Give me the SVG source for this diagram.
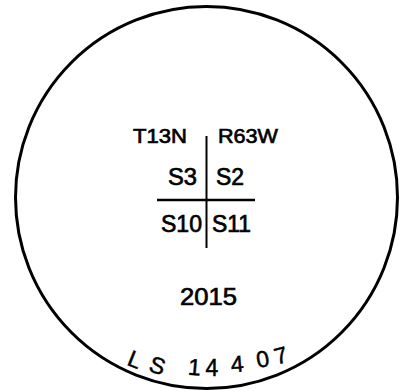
<svg xmlns="http://www.w3.org/2000/svg" width="409" height="392" viewBox="0 0 409 392">
<style>
.lbl{font-family:"Liberation Sans",Arial,sans-serif;fill:#000;stroke:#000;stroke-width:0.7}
.hw{font-family:"Liberation Sans",Arial,sans-serif;font-size:23px;fill:#000;stroke:#000;stroke-width:0.5;text-anchor:middle}
.ln{stroke:#000;fill:none}
</style>
<rect width="409" height="392" fill="#fff"/>
<g id="boundary">
<circle cx="206.5" cy="197.5" r="191" fill="none" stroke="#000" stroke-width="3"/>
</g>
<g id="connectors">
<line class="ln" x1="206.5" y1="136" x2="206.5" y2="248" stroke-width="2"/>
<line class="ln" x1="157" y1="200" x2="255" y2="200" stroke-width="2.5"/>
</g>
<g id="township"><text class="lbl" x="133" y="143" font-size="21" textLength="54" lengthAdjust="spacingAndGlyphs">T13N</text></g>
<g id="range"><text class="lbl" x="218" y="143" font-size="21" textLength="60" lengthAdjust="spacingAndGlyphs">R63W</text></g>
<g id="s3"><text class="lbl" x="168" y="185" font-size="23.5" textLength="29" lengthAdjust="spacingAndGlyphs">S3</text></g>
<g id="s2"><text class="lbl" x="216" y="185" font-size="23.5" textLength="28" lengthAdjust="spacingAndGlyphs">S2</text></g>
<g id="s10"><text class="lbl" x="161" y="232" font-size="23.5" textLength="41" lengthAdjust="spacingAndGlyphs">S10</text></g>
<g id="s11"><text class="lbl" x="212" y="232" font-size="23.5" textLength="39" lengthAdjust="spacingAndGlyphs">S11</text></g>
<g id="year"><text class="lbl" x="180" y="305" font-size="24.5" textLength="57" lengthAdjust="spacingAndGlyphs">2015</text></g>
<g id="surveyor">
<text class="hw" x="132" y="367" transform="rotate(22 132 367)">L</text>
<text class="hw" x="155" y="373" transform="rotate(18 155 373)">S</text>
<text class="hw" x="194" y="375" transform="rotate(5 194 375)">1</text>
<text class="hw" x="212" y="376">4</text>
<text class="hw" x="238" y="372" transform="rotate(-5 238 372)">4</text>
<text class="hw" x="264" y="367" transform="rotate(-10 264 367)">0</text>
<text class="hw" x="283" y="363" transform="rotate(-15 283 363)">7</text>
</g>
</svg>
